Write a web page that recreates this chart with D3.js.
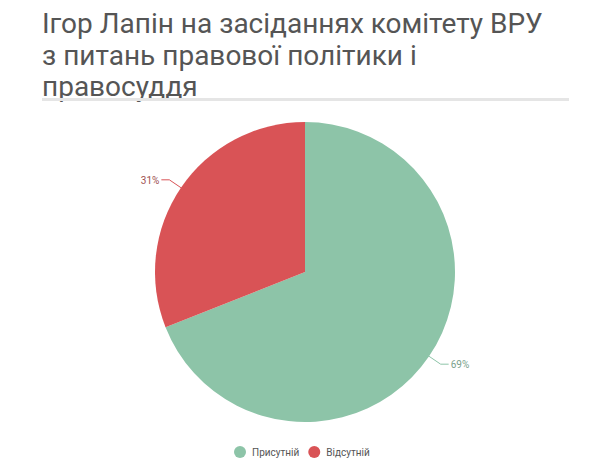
<!DOCTYPE html>
<html><head><meta charset="utf-8">
<script src="https://cdn.jsdelivr.net/npm/d3@7"></script>
<style>body{margin:0;background:#fff}</style></head>
<body><svg id="c" width="600" height="471"></svg>
<script>
const categories = ["Присутній", "Відсутній"];
const values = [69, 31];
const colors = ["#8dc4a8", "#d95356"];
const titleLines = ["Ігор Лапін на засіданнях комітету ВРУ", "з питань правової політики і", "правосуддя"];

const svg = d3.select("#c");
svg.selectAll("text.title").data(titleLines).join("text")
  .attr("x", 42).attr("y", (d, i) => 33 + i * 31.5)
  .attr("font-family", "Roboto, sans-serif").attr("font-size", 28)
  .attr("fill", "#555").text(d => d);
svg.append("rect").attr("x", 42).attr("y", 98).attr("width", 527).attr("height", 3).attr("fill", "#e5e5e5");

const cx = 305, cy = 272, r = 150;
const pie = d3.pie().sort(null).startAngle(0).endAngle(2 * Math.PI);
const arcs = pie(values);
const arc = d3.arc().innerRadius(0).outerRadius(r);
const g = svg.append("g").attr("transform", `translate(${cx},${cy})`);
g.selectAll("path").data(arcs).join("path")
  .attr("d", arc).attr("fill", (d, i) => colors[i]);

const inner = d3.arc().innerRadius(r - 2).outerRadius(r - 2);
const outer = d3.arc().innerRadius(r + 14).outerRadius(r + 14);
arcs.forEach((d, i) => {
  const a = inner.centroid(d), b = outer.centroid(d);
  const right = b[0] > 0;
  const e = [b[0] + (right ? 8 : -8), b[1]];
  g.append("polyline").attr("points", [a, b, e].map(p => p.join(",")).join(" "))
    .attr("fill", "none").attr("stroke", colors[i]).attr("stroke-width", 1);
  g.append("text").attr("x", e[0] + (right ? 2 : -2)).attr("y", e[1] + 4)
    .attr("text-anchor", right ? "start" : "end")
    .attr("font-family", "Roboto, sans-serif").attr("font-size", 10)
    .attr("fill", i === 0 ? "#7a9f8c" : "#a05050").text(values[i] + "%");
});

const leg = svg.append("g").attr("transform", "translate(237,452)");
let x = 0;
categories.forEach((c, i) => {
  leg.append("circle").attr("cx", x + 3).attr("cy", 0).attr("r", 6).attr("fill", colors[i]);
  const t = leg.append("text").attr("x", x + 15).attr("y", 4)
    .attr("font-family", "Roboto, sans-serif").attr("font-size", 10).attr("fill", "#555").text(c);
  x += 15 + t.node().getComputedTextLength() + 12;
});
</script></body></html>
